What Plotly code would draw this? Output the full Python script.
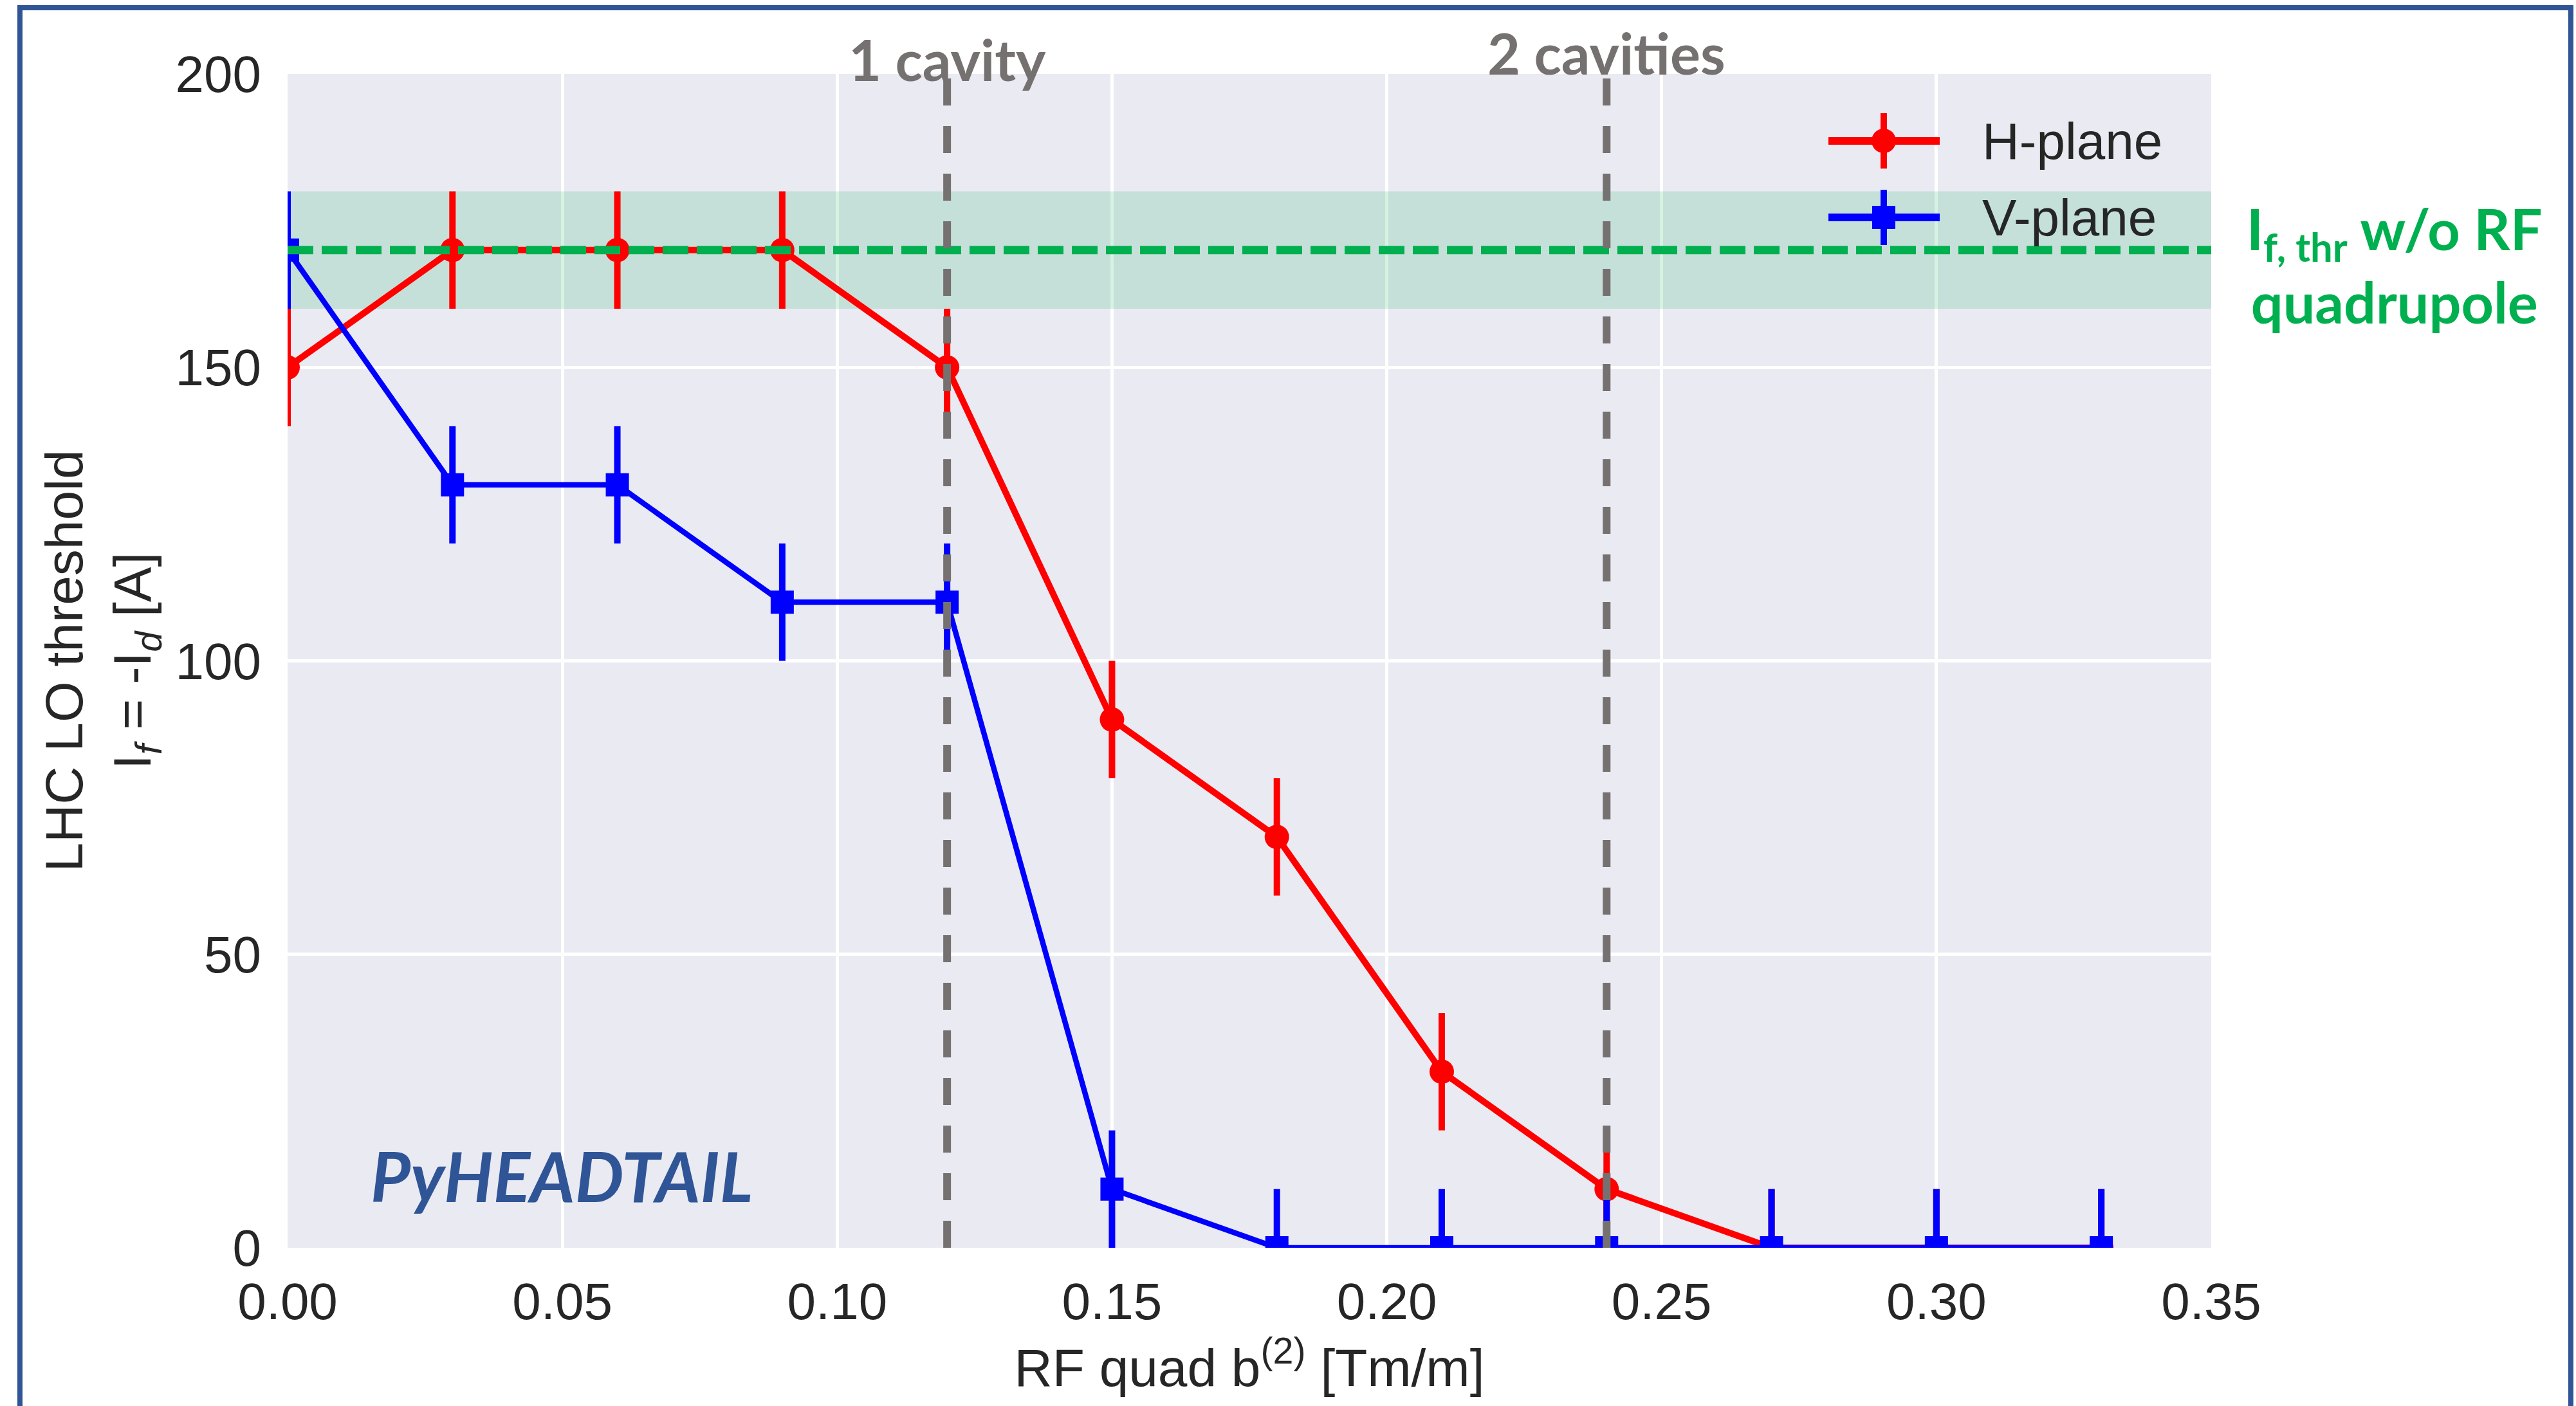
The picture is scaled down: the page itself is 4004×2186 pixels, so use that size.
import plotly.graph_objects as go

# ---------------- data ----------------
b2 = [0.00, 0.03, 0.06, 0.09, 0.12, 0.15, 0.18, 0.21, 0.24, 0.27, 0.30, 0.33]
h_plane = [150, 170, 170, 170, 150, 90, 70, 30, 10, 0, 0, 0]
h_err = [10, 10, 10, 10, 10, 10, 10, 10, 10, 10, 10, 10]
v_plane = [170, 130, 130, 110, 110, 10, 0, 0, 0, 0, 0, 0]
v_err = [10, 10, 10, 10, 10, 10, 10, 10, 10, 10, 10, 10]

x_ticks = [0.00, 0.05, 0.10, 0.15, 0.20, 0.25, 0.30, 0.35]
x_tick_labels = ["0.00", "0.05", "0.10", "0.15", "0.20", "0.25", "0.30", "0.35"]
y_ticks = [0, 50, 100, 150, 200]
y_tick_labels = ["0", "50", "100", "150", "200"]

thr_center = 170
thr_low = 160
thr_high = 180

cavity_b2 = [0.12, 0.24]
cavity_labels = ["1 cavity", "2 cavities"]

series_names = ["H-plane", "V-plane"]

# ---------------- style ----------------
W, H = 4004, 2186
L, R, T, B = 447, 567, 115, 246
PW = W - L - R
PH = H - T - B

def px_x(p):
    return (p - L) / PW

def px_y(p):
    return (H - B - p) / PH

RED = "#FF0000"
BLUE = "#0000FF"
GREEN = "#00B050"
GRAY = "#767171"
NAVY = "#2F5597"
TXT = "#262626"
TICKFONT = dict(family="Liberation Sans, Arial, sans-serif", size=80, color=TXT)
TITLEFONT = dict(family="Liberation Sans, Arial, sans-serif", size=82, color=TXT)

fig = go.Figure()

fig.add_trace(go.Scatter(
    x=b2, y=h_plane, mode="lines+markers", name=series_names[0],
    line=dict(color=RED, width=10),
    marker=dict(symbol="circle", size=38, color=RED),
    error_y=dict(type="data", array=h_err, visible=True, thickness=10, width=0, color=RED),
    showlegend=False,
))
fig.add_trace(go.Scatter(
    x=b2, y=v_plane, mode="lines+markers", name=series_names[1],
    line=dict(color=BLUE, width=8.5),
    marker=dict(symbol="square", size=36, color=BLUE),
    error_y=dict(type="data", array=v_err, visible=True, thickness=10, width=0, color=BLUE),
    showlegend=False,
))

shapes = []
# threshold band
shapes.append(dict(type="rect", xref="x", yref="y", x0=x_ticks[0], x1=x_ticks[-1],
                   y0=thr_low, y1=thr_high, line=dict(width=0),
                   fillcolor="rgba(0,176,80,0.16)", layer="between"))
# threshold line
shapes.append(dict(type="line", xref="x", yref="y", x0=x_ticks[0], x1=x_ticks[-1],
                   y0=thr_center, y1=thr_center,
                   line=dict(color=GREEN, width=13, dash="40px,13px"), layer="above"))
# cavity lines
for cx in cavity_b2:
    shapes.append(dict(type="line", xref="x", yref="y", x0=cx, x1=cx,
                       y0=y_ticks[0], y1=y_ticks[-1],
                       line=dict(color=GRAY, width=12, dash="42px,32px"), layer="above"))

# border around whole picture
shapes.append(dict(type="rect", xref="paper", yref="paper",
                   x0=px_x(31), x1=px_x(3996), y0=px_y(12), y1=px_y(2300),
                   line=dict(color=NAVY, width=8), fillcolor="rgba(0,0,0,0)", layer="above"))

# manual legend
leg_y = [px_y(219), px_y(338)]
leg_x0, leg_x1, leg_xc = px_x(2842), px_x(3015), px_x(2928)
leg_cols = [RED, BLUE]
for i in range(2):
    shapes.append(dict(type="line", xref="paper", yref="paper", x0=leg_x0, x1=leg_x1,
                       y0=leg_y[i], y1=leg_y[i], line=dict(color=leg_cols[i], width=12)))
    shapes.append(dict(type="line", xref="paper", yref="paper", xsizemode="scaled",
                       ysizemode="pixel", yanchor=leg_y[i], x0=leg_xc, x1=leg_xc,
                       y0=-43, y1=43, line=dict(color=leg_cols[i], width=10)))
shapes.append(dict(type="circle", xref="paper", yref="paper", xsizemode="pixel",
                   ysizemode="pixel", xanchor=leg_xc, yanchor=leg_y[0],
                   x0=-19, x1=19, y0=-19, y1=19, fillcolor=RED, line=dict(width=0)))
shapes.append(dict(type="rect", xref="paper", yref="paper", xsizemode="pixel",
                   ysizemode="pixel", xanchor=leg_xc, yanchor=leg_y[1],
                   x0=-18, x1=18, y0=-18, y1=18, fillcolor=BLUE, line=dict(width=0)))

annotations = []
for i in range(2):
    annotations.append(dict(text=series_names[i], xref="paper", yref="paper",
                            x=px_x(3079), y=leg_y[i], xanchor="left", yanchor="middle",
                            showarrow=False, font=TICKFONT))

# cavity labels
cav_y = [px_y(92), px_y(82)]
for cx, lab, cy in zip(cavity_b2, cavity_labels, cav_y):
    annotations.append(dict(text="<b>" + lab + "</b>", xref="x", yref="paper", x=cx, y=cy,
                            xanchor="center", yanchor="middle", showarrow=False,
                            font=dict(family="Lato, Open Sans, sans-serif", size=88, color=GRAY)))

# threshold label
annotations.append(dict(text="<b>I<sub>f, thr</sub> w/o RF<br>quadrupole</b>", xref="paper", yref="paper",
                        x=px_x(3722), y=px_y(412), xanchor="center", yanchor="middle",
                        showarrow=False, align="center",
                        font=dict(family="Lato, Open Sans, sans-serif", size=88, color=GREEN)))

# code label
annotations.append(dict(text="<b><i>PyHEADTAIL</i></b>", xref="paper", yref="paper",
                        x=px_x(873), y=px_y(1827), xanchor="center", yanchor="middle",
                        showarrow=False,
                        font=dict(family="Lato, Open Sans, sans-serif", size=107, color=NAVY)))

# y axis title
annotations.append(dict(text="LHC LO threshold<br>I<sub><i>f</i></sub> = -I<sub><i>d</i></sub> [A]",
                        xref="paper", yref="paper", x=px_x(158), y=0.5,
                        xanchor="center", yanchor="middle", textangle=-90, showarrow=False,
                        align="center", font=TITLEFONT))

fig.update_layout(
    width=W, height=H,
    margin=dict(l=L, r=R, t=T, b=B, pad=0),
    paper_bgcolor="white", plot_bgcolor="#EAEAF2",
    shapes=shapes, annotations=annotations,
    showlegend=False,
    xaxis=dict(range=[x_ticks[0], x_ticks[-1]], tickvals=x_ticks, ticktext=x_tick_labels,
               showgrid=True, gridcolor="white", gridwidth=5, zeroline=False,
               showline=False, ticks="", tickfont=TICKFONT, ticklabelstandoff=30,
               title=dict(text="RF quad b<sup>(2)</sup> [Tm/m]", font=TITLEFONT, standoff=30)),
    yaxis=dict(range=[y_ticks[0], y_ticks[-1]], tickvals=y_ticks, ticktext=y_tick_labels,
               showgrid=True, gridcolor="white", gridwidth=5, zeroline=False,
               showline=False, ticks="", tickfont=TICKFONT, ticklabelstandoff=40),
)

fig.write_html("out.html")
